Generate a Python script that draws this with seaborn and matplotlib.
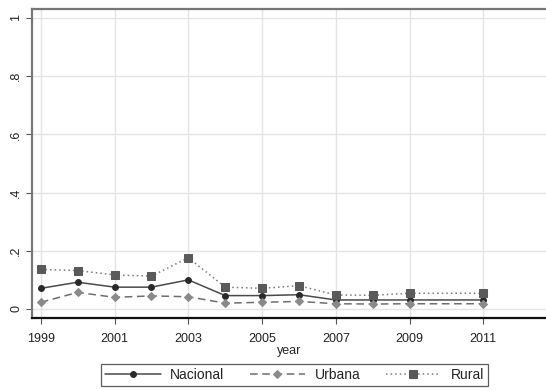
import matplotlib
matplotlib.use("Agg")
import matplotlib.pyplot as plt
import seaborn as sns
import pandas as pd

years = [1999, 2000, 2001, 2002, 2003, 2004, 2005, 2006, 2007, 2008, 2009, 2011]
nacional = [0.071, 0.092, 0.075, 0.075, 0.100, 0.046, 0.046, 0.049, 0.031, 0.031, 0.031, 0.031]
urbana = [0.023, 0.057, 0.040, 0.045, 0.042, 0.020, 0.023, 0.026, 0.018, 0.017, 0.018, 0.018]
rural = [0.136, 0.132, 0.117, 0.113, 0.176, 0.075, 0.071, 0.080, 0.048, 0.047, 0.054, 0.054]

x_ticks = [1999, 2001, 2003, 2005, 2007, 2009, 2011]
y_ticks = [0, 0.2, 0.4, 0.6, 0.8, 1.0]
y_tick_labels = ["0", ".2", ".4", ".6", ".8", "1"]

sns.set_theme(style="white")
plt.rcParams["font.family"] = ["Liberation Sans", "DejaVu Sans"]

fig = plt.figure(figsize=(5.46, 3.90), dpi=100)
ax = fig.add_axes([0.0586, 0.1846, 0.9414, 0.7924])

series = [
    ("Nacional", nacional, dict(color="#4a4a4a", linestyle="-", marker="o",
                                markersize=4.2, markerfacecolor="#2a2a2a",
                                markeredgecolor="#2a2a2a")),
    ("Urbana", urbana, dict(color="#6e6e6e", linestyle=(0, (5, 3)), marker="D",
                            markersize=4.2, markerfacecolor="#8a8a8a",
                            markeredgecolor="#8a8a8a")),
    ("Rural", rural, dict(color="#7a7a7a", linestyle=(0, (1, 2)), marker="s",
                          markersize=5.4, markerfacecolor="#5a5a5a",
                          markeredgecolor="#5a5a5a")),
]

for name, vals, kw in series:
    df = pd.DataFrame({"year": years, "value": vals})
    sns.lineplot(data=df, x="year", y="value", ax=ax, label=name,
                 linewidth=1.1, **kw)

ax.set_xlim(1998.76, 2012.7)
ax.set_ylim(-0.031, 1.031)
ax.set_xticks(x_ticks)
ax.set_xticklabels([str(t) for t in x_ticks], fontsize=9)
ax.set_yticks(y_ticks)
ax.set_yticklabels(y_tick_labels, fontsize=9, rotation=90, va="center")
ax.set_xlabel("year", fontsize=9, labelpad=0)
ax.set_ylabel("")

ax.grid(True, color="#e4e4e4", linewidth=1.0)
ax.set_axisbelow(True)
ax.tick_params(axis="both", which="both", length=4, width=0.8, color="#555555",
               bottom=True, left=True, labelcolor="#222222")
ax.tick_params(axis="x", pad=7)
ax.tick_params(axis="y", pad=3)

ax.spines["right"].set_visible(False)
ax.spines["top"].set_color("#777777")
ax.spines["top"].set_linewidth(1.6)
ax.spines["left"].set_color("#777777")
ax.spines["left"].set_linewidth(1.6)
ax.spines["bottom"].set_color("#111111")
ax.spines["bottom"].set_linewidth(1.6)

leg = ax.legend(loc="upper center", bbox_to_anchor=(0.511, -0.125), ncol=3,
                frameon=True, fancybox=False, fontsize=10, handlelength=4.0,
                columnspacing=1.8, handletextpad=0.7, borderpad=0.3,
                edgecolor="#333333")
leg.get_frame().set_linewidth(0.9)
for txt in leg.get_texts():
    txt.set_color("#222222")

fig.savefig("out.png", dpi=100)
